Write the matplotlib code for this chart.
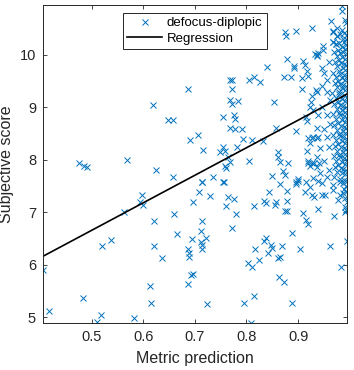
import matplotlib
matplotlib.use("Agg")
import matplotlib.pyplot as plt
import numpy as np

plt.rcParams['font.family'] = ['Liberation Sans', 'DejaVu Sans']

series_label = "defocus-diplopic"
line_label = "Regression"
x_label = "Metric prediction"
y_label = "Subjective score"
x_ticks = [0.5, 0.6, 0.7, 0.8, 0.9]
y_ticks = [5, 6, 7, 8, 9, 10]
x_limits = [0.406, 0.9946]
y_limits = [4.89, 10.95]
reg_slope = 5.25
reg_intercept = 4.03

# sparse points (left / middle)
sparse_x = [0.476, 0.485, 0.4915, 0.568, 0.619, 0.625, 0.648, 0.658, 0.657,
            0.406, 0.418, 0.484, 0.5097, 0.519, 0.521, 0.537, 0.563, 0.583, 0.594,
            0.598, 0.600, 0.613, 0.616, 0.621, 0.621, 0.636, 0.659, 0.665,
            0.697, 0.714, 0.709, 0.729, 0.757, 0.765, 0.776, 0.760, 0.779, 0.7725,
            0.714, 0.712, 0.694, 0.7215, 0.711, 0.713, 0.714, 0.687, 0.6885, 0.689,
            0.692, 0.696, 0.687, 0.724, 0.795, 0.8145, 0.809, 0.802, 0.811, 0.825,
            0.817, 0.8345, 0.837, 0.842, 0.8475, 0.849, 0.868, 0.8617, 0.865, 0.863,
            0.873, 0.8876, 0.8876, 0.904, 0.962, 0.983, 0.994, 0.991, 0.970, 0.939,
            0.910, 0.915, 0.9186, 0.8746, 0.879, 0.879, 0.879, 0.865, 0.844, 0.834,
            0.838, 0.857, 0.855, 0.815, 0.896, 0.899, 0.913, 0.923, 0.926, 0.931,
            0.946, 0.952, 0.967, 0.978, 0.981, 0.9876, 0.981, 0.939]
sparse_y = [7.94, 7.89, 7.87, 8.00, 9.04, 7.81, 8.76, 8.76, 7.68,
            5.90, 5.12, 5.36, 4.90, 5.04, 6.36, 6.47, 7.01, 4.98, 7.20,
            7.33, 7.14, 5.60, 5.28, 6.84, 6.36, 6.12, 6.97, 6.59,
            7.19, 7.57, 7.39, 7.31, 7.57, 7.29, 7.25, 7.12, 6.97, 6.70,
            6.84, 6.65, 6.49, 6.51, 6.44, 6.38, 6.30, 6.30, 6.22, 6.14,
            5.81, 5.83, 5.63, 5.25, 5.27, 5.41, 4.89, 6.03, 5.95, 6.09,
            6.30, 6.45, 6.51, 6.23, 6.37, 6.32, 6.36, 6.12, 6.14, 5.77,
            5.68, 5.28, 6.60, 6.30, 6.36, 5.95, 6.45, 7.00, 6.93, 7.06,
            6.99, 6.85, 6.77, 7.03, 7.03, 7.22, 7.41, 7.54, 7.39, 7.22,
            7.17, 7.20, 7.14, 7.12, 7.54, 7.60, 7.38, 7.48, 7.33, 7.30,
            7.33, 7.33, 7.43, 7.24, 7.33, 7.36, 7.58, 7.60]

# upper-middle points
upper_x = [0.687, 0.769, 0.772, 0.7713, 0.805, 0.8145, 0.826, 0.768, 0.771, 0.783,
           0.755, 0.776, 0.778, 0.768, 0.778, 0.791, 0.6905, 0.7066, 0.716, 0.755,
           0.7487, 0.758, 0.7926, 0.781, 0.758, 0.760, 0.805, 0.7357, 0.713, 0.755,
           0.839, 0.8533, 0.8325, 0.857, 0.8747, 0.876, 0.896, 0.9275, 0.878, 0.873,
           0.8857, 0.892, 0.892, 0.907, 0.910, 0.913, 0.9165, 0.908, 0.9153, 0.896,
           0.8617, 0.8617, 0.865, 0.881, 0.8713, 0.8747, 0.849, 0.896, 0.900,
           0.765, 0.810, 0.768, 0.936, 0.920, 0.926, 0.925, 0.923, 0.934]
upper_y = [9.35, 9.52, 9.52, 9.35, 9.52, 9.57, 9.49, 9.14, 9.07, 9.13,
           8.81, 8.86, 8.78, 8.60, 8.58, 8.59, 8.37, 8.47, 8.18, 8.25,
           8.14, 8.16, 8.39, 8.24, 7.88, 7.84, 7.97, 7.68, 7.58, 7.58,
           9.77, 9.10, 8.35, 8.61, 10.43, 10.36, 10.46, 10.51, 9.92, 9.57,
           9.57, 9.75, 9.79, 9.56, 9.89, 9.80, 9.70, 9.35, 8.82, 8.55,
           8.14, 8.06, 7.95, 7.94, 7.78, 7.71, 7.69, 7.58, 7.63,
           8.06, 8.38, 7.95, 10.00, 9.60, 9.21, 9.11, 9.01, 9.33]

# right-side cloud
right_x = [0.933, 0.936, 0.938, 0.948, 0.949, 0.968, 0.967, 0.975, 0.973, 0.960,
           0.946, 0.950, 0.955, 0.946, 0.936, 0.955, 0.962, 0.946, 0.929, 0.939,
           0.955, 0.918, 0.936, 0.950, 0.962, 0.929, 0.939, 0.955, 0.923, 0.942,
           0.960, 0.918, 0.936, 0.950, 0.926, 0.920, 0.923, 0.936, 0.942, 0.960,
           0.955, 0.929, 0.916, 0.946, 0.968, 0.919, 0.926, 0.936, 0.920, 0.930, 0.940]
right_y = [10.02, 9.98, 10.03, 10.16, 10.09, 10.46, 10.25, 10.35, 10.20, 9.87,
           9.75, 9.65, 9.52, 9.40, 9.30, 9.30, 9.14, 9.01, 8.95, 8.86,
           8.86, 8.73, 8.60, 8.58, 8.69, 8.44, 8.44, 8.44, 8.32, 8.22,
           8.25, 8.16, 8.06, 7.98, 7.94, 7.98, 7.88, 7.86, 7.75, 7.81,
           7.68, 7.65, 7.58, 7.56, 7.52, 8.42, 8.42, 8.42, 7.94, 7.94, 7.94]

# dense column near the right edge
dense_x = [0.984, 0.985, 0.964, 0.991, 0.976, 0.985, 0.993,
           0.968, 0.981, 0.989, 0.994, 0.975, 0.986, 0.992,
           0.967, 0.979, 0.988, 0.993, 0.973, 0.984, 0.990, 0.977,
           0.970, 0.982, 0.987, 0.994, 0.975, 0.985, 0.991, 0.980,
           0.972, 0.983, 0.989, 0.993, 0.976, 0.986, 0.991, 0.979,
           0.968, 0.981, 0.988, 0.994, 0.974, 0.984, 0.990, 0.977,
           0.971, 0.982, 0.987, 0.993, 0.976, 0.985, 0.991, 0.979,
           0.966, 0.980, 0.988, 0.994, 0.973, 0.984, 0.990, 0.977,
           0.970, 0.982, 0.987, 0.992, 0.975, 0.985, 0.991, 0.979,
           0.967, 0.981, 0.989, 0.994, 0.973, 0.984, 0.990, 0.977,
           0.970, 0.983, 0.988, 0.993, 0.976, 0.986, 0.991, 0.980,
           0.968, 0.982, 0.987, 0.994, 0.974, 0.985, 0.990, 0.978,
           0.971, 0.983, 0.989, 0.993, 0.976, 0.986, 0.991, 0.980,
           0.969, 0.981, 0.988, 0.994, 0.974, 0.984, 0.990, 0.978,
           0.972, 0.983, 0.987, 0.993, 0.976, 0.985, 0.991,
           0.970, 0.982, 0.989, 0.994, 0.986, 0.992,
           0.988, 0.993, 0.990, 0.994, 0.991, 0.993]
dense_y = [10.93, 10.83, 10.65, 10.67, 10.51, 10.48, 10.60,
           10.44, 10.40, 10.42, 10.38, 10.35, 10.31, 10.30,
           10.25, 10.22, 10.24, 10.18, 10.20, 10.15, 10.12, 10.10,
           10.05, 10.03, 10.06, 10.01, 9.97, 9.95, 9.92, 9.90,
           9.87, 9.85, 9.83, 9.80, 9.78, 9.75, 9.72, 9.70,
           9.66, 9.64, 9.62, 9.60, 9.57, 9.55, 9.53, 9.50,
           9.47, 9.45, 9.43, 9.41, 9.38, 9.36, 9.33, 9.30,
           9.27, 9.25, 9.23, 9.20, 9.18, 9.15, 9.13, 9.10,
           9.07, 9.05, 9.03, 9.00, 8.97, 8.95, 8.92, 8.90,
           8.87, 8.85, 8.83, 8.80, 8.77, 8.75, 8.72, 8.70,
           8.66, 8.64, 8.62, 8.60, 8.57, 8.55, 8.52, 8.50,
           8.47, 8.45, 8.43, 8.40, 8.37, 8.35, 8.32, 8.30,
           8.27, 8.25, 8.23, 8.20, 8.17, 8.15, 8.12, 8.10,
           8.07, 8.05, 8.03, 8.00, 7.97, 7.95, 7.92, 7.90,
           7.87, 7.85, 7.83, 7.80, 7.77, 7.75, 7.72,
           7.67, 7.64, 7.62, 7.60, 7.55, 7.50,
           7.45, 7.38, 7.28, 7.20, 7.10, 7.05]

x_all = np.array(sparse_x + upper_x + right_x + dense_x)
y_all = np.array(sparse_y + upper_y + right_y + dense_y)

fig = plt.figure(figsize=(3.54, 3.70), dpi=100)
ax = fig.add_axes([43 / 354, 47 / 370, 304 / 354, 318 / 370])

blue = '#0072BD'
dark = '#262626'
ax.plot(x_all, y_all, linestyle='none', marker='x', color=blue,
        markersize=5, markeredgewidth=0.7, label=series_label)
xl = np.array(x_limits)
ax.plot(xl, reg_intercept + reg_slope * xl, color='black', linewidth=1.2,
        label=line_label)

ax.set_xlim(x_limits)
ax.set_ylim(y_limits)
ax.set_xticks(x_ticks)
ax.set_xticklabels([f"{t:g}" for t in x_ticks])
ax.set_yticks(y_ticks)
ax.tick_params(direction='in', top=True, right=True, length=3, width=0.6,
               colors=dark, labelsize=10.5, pad=5)
for s in ax.spines.values():
    s.set_color(dark)
    s.set_linewidth(0.7)
ax.set_xlabel(x_label, fontsize=11.5, color=dark, labelpad=5)
ax.set_ylabel(y_label, fontsize=11.5, color=dark, labelpad=4)

leg = ax.legend(loc='upper center', bbox_to_anchor=(0.5, 0.975), fontsize=9.5,
                frameon=True, fancybox=False, edgecolor=dark, framealpha=1,
                handlelength=2.6, borderpad=0.3, labelspacing=0.25,
                handletextpad=0.4, borderaxespad=0)
leg.get_frame().set_linewidth(0.7)

fig.savefig('out.png', dpi=100)
